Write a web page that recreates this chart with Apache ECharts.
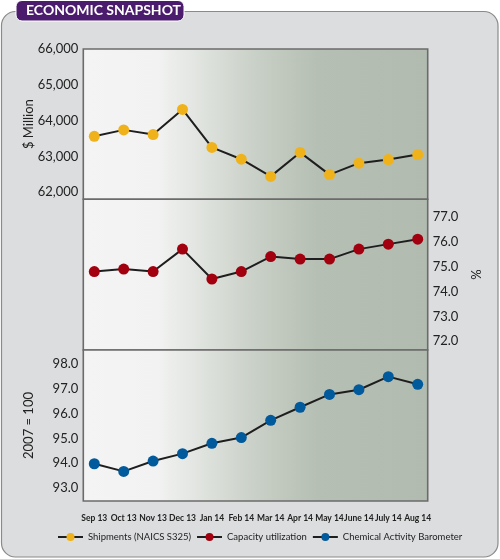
<!DOCTYPE html>
<html>
<head>
<meta charset="utf-8">
<script src="https://cdn.jsdelivr.net/npm/echarts@6/dist/echarts.min.js"></script>
<style>
html,body{margin:0;padding:0;background:#ffffff;}
#chart{width:500px;height:559px;}
</style>
</head>
<body>
<div id="chart"></div>
<script>
var categories = ['Sep 13','Oct 13','Nov 13','Dec 13','Jan 14','Feb 14','Mar 14','Apr 14','May 14','June 14','July 14','Aug 14'];
var shipments = [63560, 63740, 63610, 64310, 63250, 62920, 62440, 63110, 62490, 62810, 62910, 63050];
var capacity = [74.8, 74.9, 74.8, 75.7, 74.5, 74.8, 75.4, 75.3, 75.3, 75.7, 75.9, 76.1];
var barometer = [93.97, 93.66, 94.08, 94.38, 94.80, 95.03, 95.73, 96.26, 96.78, 96.97, 97.50, 97.19];
var seriesNames = ['Shipments (NAICS S325)', 'Capacity utilization', 'Chemical Activity Barometer'];

var chart = echarts.init(document.getElementById('chart'), null, {renderer: 'canvas'});
var FONT = 'Lato, "Noto Sans", sans-serif';
var bgGrad = {
  type: 'linear', x: 0, y: 0, x2: 1, y2: 0,
  colorStops: [
    {offset: 0, color: '#f3f4f3'},
    {offset: 0.22, color: '#f1f2f1'},
    {offset: 0.32, color: '#e3e6e2'},
    {offset: 0.5, color: '#c9d0c7'},
    {offset: 0.68, color: '#b6bfb4'},
    {offset: 1, color: '#b2bbaf'}
  ]
};
function intLabel(v){ return Math.abs(v - Math.round(v)) < 1e-6 ? v.toFixed(1) : ''; }
function thouLabel(v){ return (Math.abs(v % 1000) < 1e-6) ? Math.round(v).toLocaleString('en-US') : ''; }

var bgGridCommon = {show: true, left: 83.3, right: 72.3, backgroundColor: bgGrad, borderColor: '#6b6b6b', borderWidth: 1.6};
var dataGridCommon = {show: false, left: 94.3, right: 82.3};

var hiddenX = function(i){ return {type: 'category', gridIndex: i, show: false, data: categories}; };
var hiddenY = function(i){ return {type: 'value', gridIndex: i, show: false}; };

var yLabelStyle = {color: '#222', fontSize: 13, fontFamily: FONT};

var option = {
  animation: false,
  graphic: [
    {type: 'rect', z: -10, shape: {x: 1.5, y: 11.5, width: 496.5, height: 545.5, r: 14},
     style: {fill: '#dcddde', stroke: '#8a8a8a', lineWidth: 1.2}},
    {type: 'rect', z: 100, shape: {x: 16, y: 0.5, width: 168, height: 20.5, r: 6},
     style: {fill: '#4b1c6d', stroke: '#ffffff', lineWidth: 1}},
    {type: 'text', z: 101, left: 26, top: 3,
     style: {text: 'ECONOMIC SNAPSHOT', fill: '#ffffff', font: 'bold 14px ' + FONT}}
  ],
  grid: [
    Object.assign({top: 49, height: 150.3}, bgGridCommon),
    Object.assign({top: 199.3, height: 150.7}, bgGridCommon),
    Object.assign({top: 350, height: 151}, bgGridCommon),
    Object.assign({top: 49, height: 150.3}, dataGridCommon),
    Object.assign({top: 199.3, height: 150.7}, dataGridCommon),
    Object.assign({top: 350, height: 151}, dataGridCommon)
  ],
  xAxis: [
    hiddenX(0), hiddenX(1), hiddenX(2),
    {type: 'category', gridIndex: 3, data: categories, boundaryGap: false, show: false},
    {type: 'category', gridIndex: 4, data: categories, boundaryGap: false, show: false},
    {type: 'category', gridIndex: 5, data: categories, boundaryGap: false,
     axisLine: {show: false}, axisTick: {show: false},
     axisLabel: {interval: 0, margin: 13, color: '#222', fontSize: 8.5, fontWeight: 'bold',
                 fontFamily: FONT}}
  ],
  yAxis: [
    hiddenY(0), hiddenY(1), hiddenY(2),
    {type: 'value', gridIndex: 3, position: 'left', offset: 11, min: 61800, max: 66000,
     splitLine: {show: false}, axisLine: {show: false}, axisTick: {show: false},
     axisLabel: Object.assign({margin: 5, formatter: thouLabel}, yLabelStyle),
     name: '$ Million', nameLocation: 'middle', nameRotate: 90, nameGap: 48, nameMoveOverlap: false,
     nameTextStyle: yLabelStyle},
    {type: 'value', gridIndex: 4, position: 'right', offset: 10, min: 71.65, max: 77.7,
     splitLine: {show: false}, axisLine: {show: false}, axisTick: {show: false},
     axisLabel: Object.assign({margin: 5, formatter: intLabel}, yLabelStyle),
     name: '%', nameLocation: 'middle', nameRotate: 90, nameGap: 43, nameMoveOverlap: false,
     nameTextStyle: yLabelStyle},
    {type: 'value', gridIndex: 5, position: 'left', offset: 11, min: 92.46, max: 98.58,
     splitLine: {show: false}, axisLine: {show: false}, axisTick: {show: false},
     axisLabel: Object.assign({margin: 5, formatter: intLabel}, yLabelStyle),
     name: '2007 = 100', nameLocation: 'middle', nameRotate: 90, nameGap: 48, nameMoveOverlap: false,
     nameTextStyle: yLabelStyle}
  ],
  legend: {
    left: 57, top: 532, padding: 0, itemGap: 5, itemWidth: 25, itemHeight: 10,
    textStyle: {color: '#222', fontSize: 9.5, fontFamily: FONT},
    data: seriesNames
  },
  series: [
    {name: seriesNames[0], type: 'line', xAxisIndex: 3, yAxisIndex: 3, data: shipments,
     symbol: 'circle', symbolSize: 11, lineStyle: {color: '#1e1e1e', width: 2},
     itemStyle: {color: '#f0b21a'}},
    {name: seriesNames[1], type: 'line', xAxisIndex: 4, yAxisIndex: 4, data: capacity,
     symbol: 'circle', symbolSize: 11, lineStyle: {color: '#1e1e1e', width: 2},
     itemStyle: {color: '#a3000f'}},
    {name: seriesNames[2], type: 'line', xAxisIndex: 5, yAxisIndex: 5, data: barometer,
     symbol: 'circle', symbolSize: 11, lineStyle: {color: '#1e1e1e', width: 2},
     itemStyle: {color: '#005a9c'}}
  ]
};
chart.setOption(option);
</script>
</body>
</html>
